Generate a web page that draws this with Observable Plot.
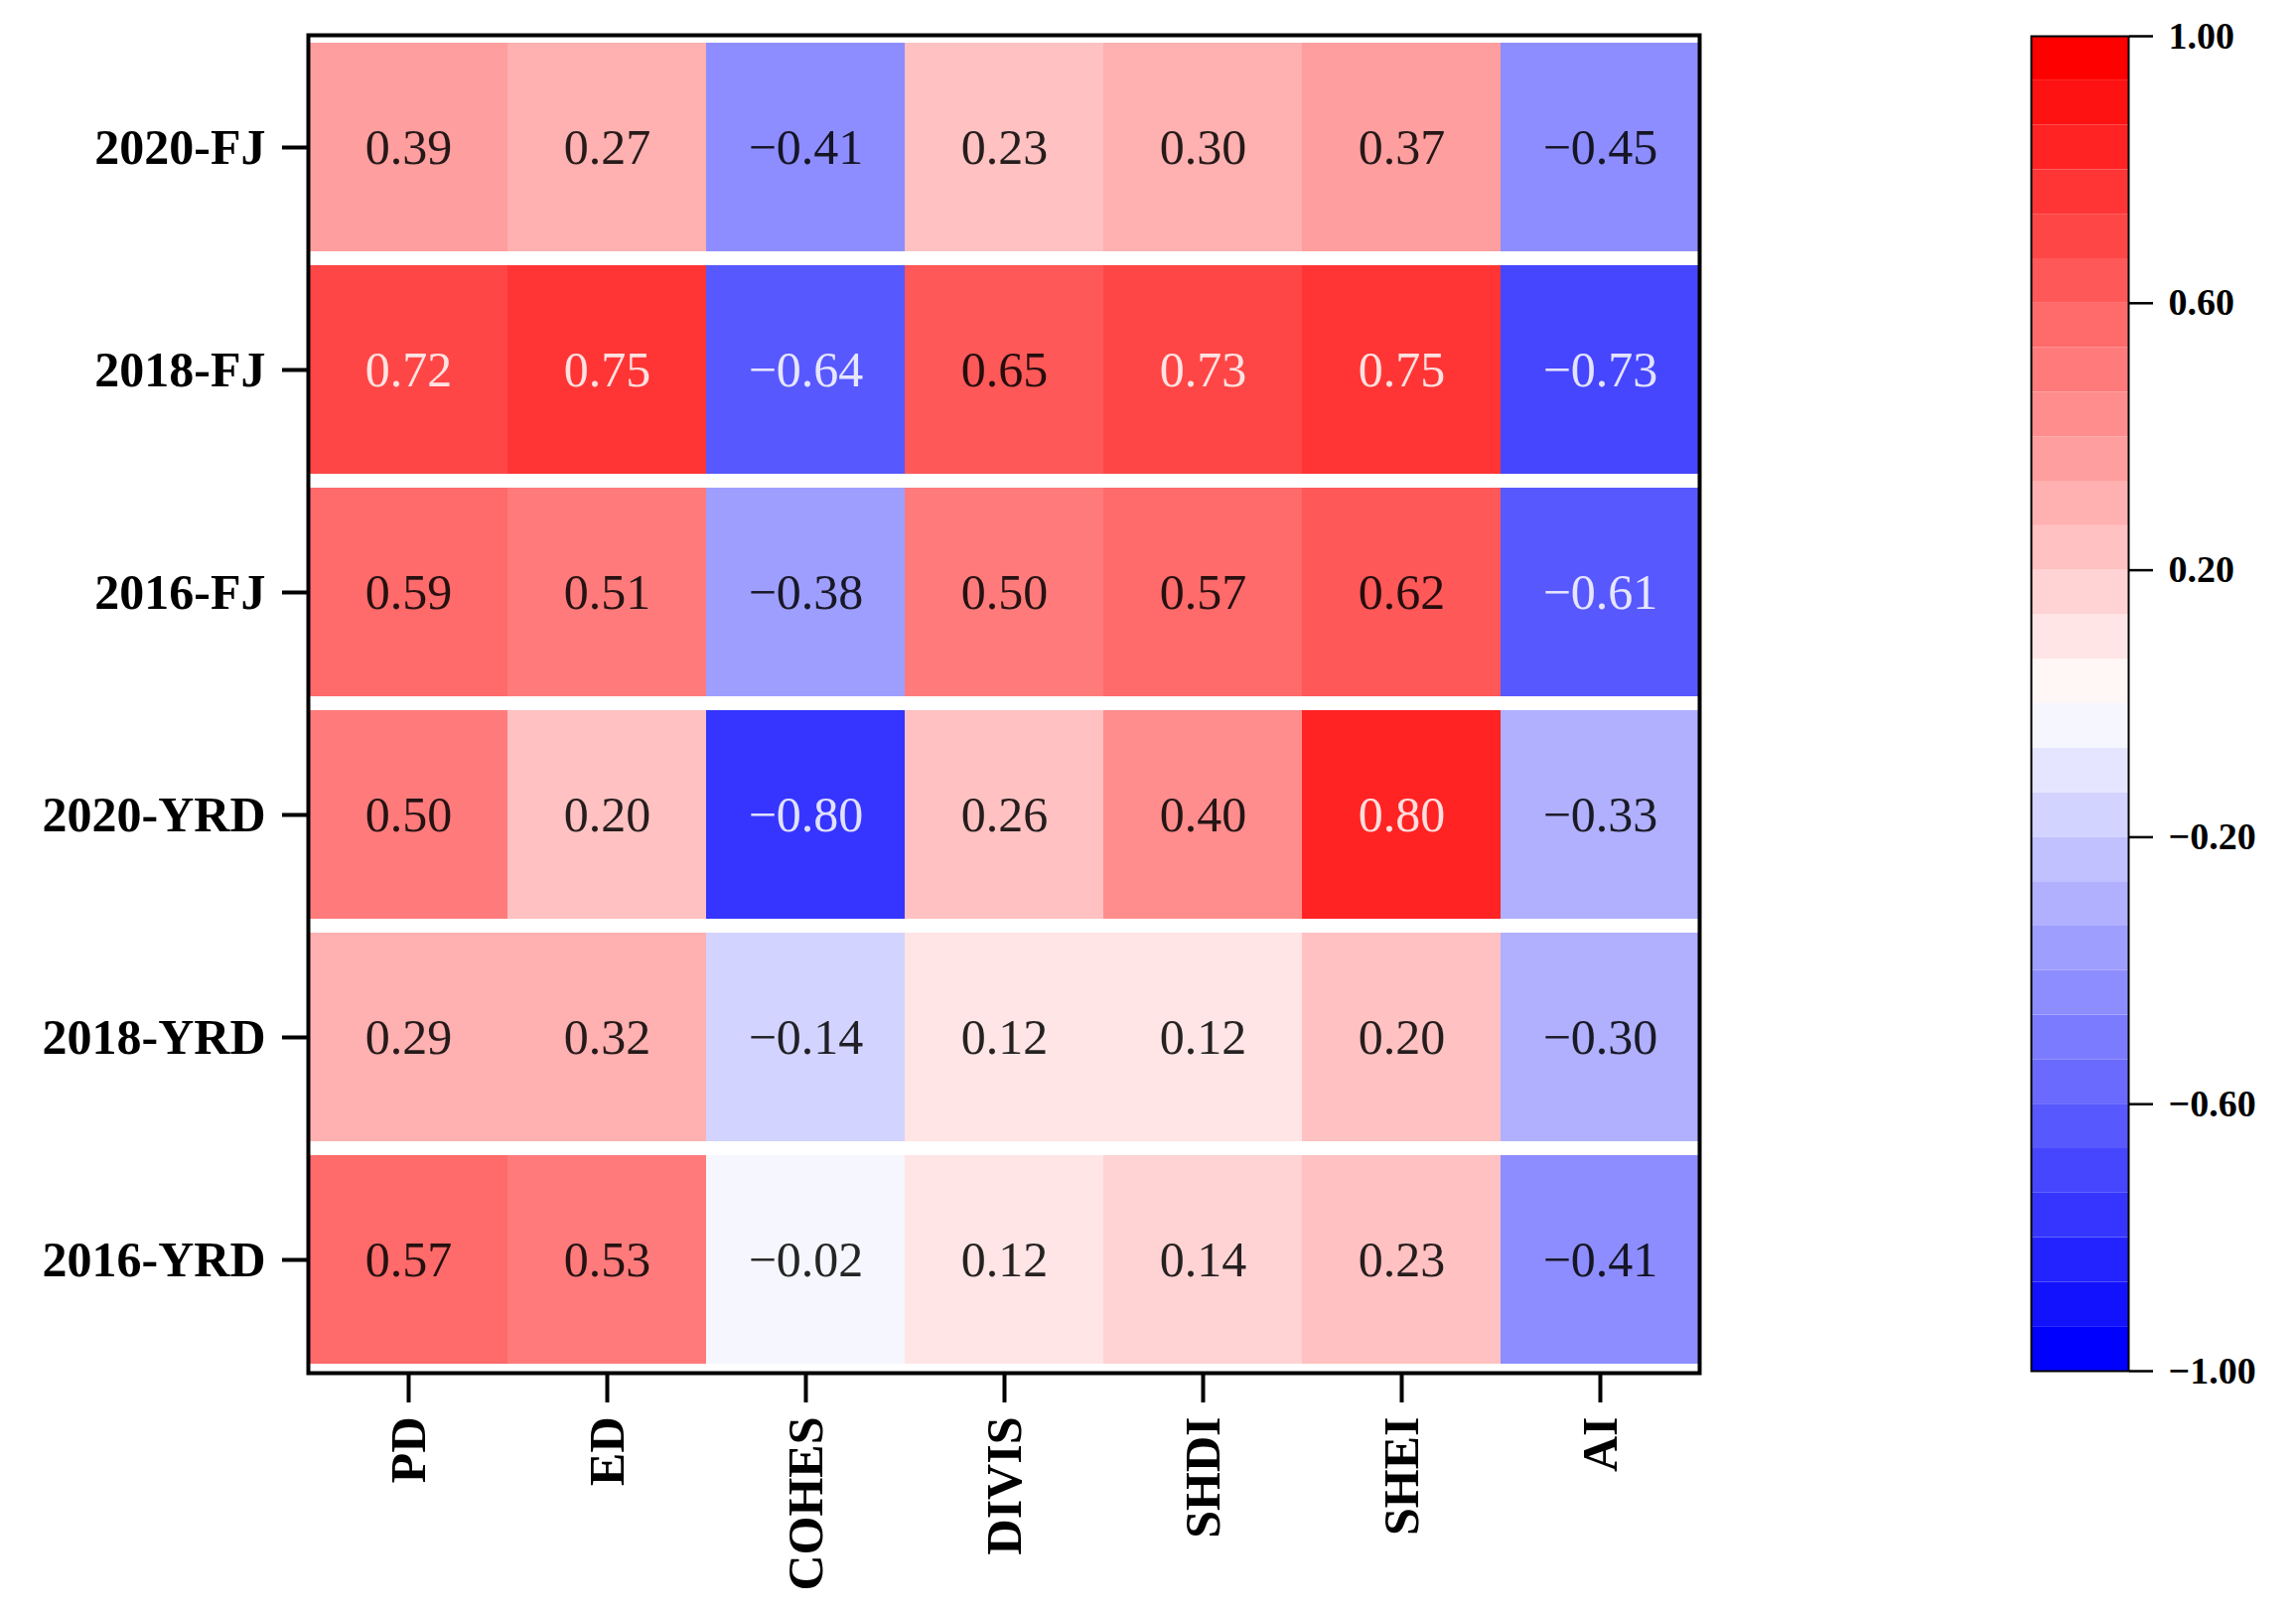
<!DOCTYPE html>
<html><head><meta charset="utf-8">
<script src="https://cdn.jsdelivr.net/npm/d3@7"></script>
<script src="https://cdn.jsdelivr.net/npm/@observablehq/plot@0.6"></script>
<style>
html,body{margin:0;padding:0;background:#fff;}
#wrap{position:relative;width:2312px;height:1625px;background:#fff;}
#main{position:absolute;left:0;top:0;}
#bar{position:absolute;left:1995px;top:0;}
</style></head><body><div id="wrap"><div id="main"></div><div id="bar"></div></div>
<script>
// ---- data ----
const regions = ["2020-FJ", "2018-FJ", "2016-FJ", "2020-YRD", "2018-YRD", "2016-YRD"];
const metrics = ["PD", "ED", "COHES", "DIVIS", "SHDI", "SHEI", "AI"];
const r2020FJ  = [0.39, 0.27, -0.41, 0.23, 0.30, 0.37, -0.45];
const r2018FJ  = [0.72, 0.75, -0.64, 0.65, 0.73, 0.75, -0.73];
const r2016FJ  = [0.59, 0.51, -0.38, 0.50, 0.57, 0.62, -0.61];
const r2020YRD = [0.50, 0.20, -0.80, 0.26, 0.40, 0.80, -0.33];
const r2018YRD = [0.29, 0.32, -0.14, 0.12, 0.12, 0.20, -0.30];
const r2016YRD = [0.57, 0.53, -0.02, 0.12, 0.14, 0.23, -0.41];
const colorbarTicks = [-1.0, -0.6, -0.2, 0.2, 0.6, 1.0];
const colorDomain = [-1, 1];
const nLevels = 30;

const rowValues = [r2020FJ, r2018FJ, r2016FJ, r2020YRD, r2018YRD, r2016YRD];
const table = regions.flatMap((r, i) => metrics.map((m, j) => ({region: r, metric: m, value: rowValues[i][j]})));

// discrete bwr colormap (30 levels, linear blue-white-red)
const bwr = d3.piecewise(d3.interpolateRgb, ["#0000ff", "#ffffff", "#ff0000"]);
const levelColors = d3.range(nLevels).map(i => bwr(i / (nLevels - 1)));
const step = (colorDomain[1] - colorDomain[0]) / nLevels;
const thresholds = d3.range(1, nLevels).map(k => +(colorDomain[0] + k * step).toFixed(6));
const colorOpts = {type: "threshold", domain: thresholds, range: levelColors};

function levelOf(v) { return Math.max(0, Math.min(nLevels - 1, d3.bisectRight(thresholds, v))); }
function lum(c) {
  const rgb = d3.rgb(c);
  const f = x => { x /= 255; return x <= 0.03928 ? x / 12.92 : Math.pow((x + 0.055) / 1.055, 2.4); };
  return 0.2126 * f(rgb.r) + 0.7152 * f(rgb.g) + 0.0722 * f(rgb.b);
}
const textColor = d => lum(levelColors[levelOf(d.value)]) < 0.275 ? "white" : "black";
const fmt = d3.format(".2f");
const FONT = "'Liberation Serif', 'Times New Roman', serif";

const main = Plot.plot({
  width: 1731,
  height: 1625,
  marginLeft: 310,
  marginRight: 20,
  marginTop: 35,
  marginBottom: 243,
  style: {fontFamily: FONT, background: "white", color: "black"},
  x: {domain: metrics, padding: 0, axis: null},
  y: {domain: regions, paddingInner: 0.0624, paddingOuter: 0.0312, axis: null},
  color: colorOpts,
  marks: [
    Plot.cell(table, {x: "metric", y: "region", fill: "value", inset: 0}),
    Plot.text(table, {x: "metric", y: "region", text: d => fmt(d.value), fill: textColor, fillOpacity: 0.85,
      fontSize: 50, fontFamily: FONT}),
    Plot.frame({stroke: "black", strokeWidth: 4}),
    Plot.axisY({tickSize: 26, tickPadding: 17, strokeWidth: 4, fontSize: 50, fontWeight: "bold", fontFamily: FONT, label: null}),
    Plot.axisX({anchor: "bottom", tickSize: 30, tickPadding: 14, strokeWidth: 4, tickRotate: -90,
      fontSize: 50, fontWeight: "bold", fontFamily: FONT, label: null})
  ]
});
document.getElementById("main").appendChild(main);

const bins = d3.range(nLevels).map(i => ({lo: colorDomain[0] + i * step, hi: colorDomain[0] + (i + 1) * step, mid: colorDomain[0] + (i + 0.5) * step}));
const bar = Plot.plot({
  width: 317,
  height: 1625,
  marginLeft: 50,
  marginRight: 169,
  marginTop: 36,
  marginBottom: 245,
  style: {fontFamily: FONT, background: "transparent", color: "black"},
  y: {domain: colorDomain, axis: null},
  color: colorOpts,
  marks: [
    Plot.rect(bins, {y1: "lo", y2: "hi", fill: "mid"}),
    Plot.frame({stroke: "black", strokeWidth: 2}),
    Plot.axisY({anchor: "right", ticks: colorbarTicks, tickFormat: d => fmt(d), tickSize: 24, tickPadding: 16,
      strokeWidth: 2.5, fontSize: 38, fontWeight: "bold", fontFamily: FONT, label: null})
  ]
});
document.getElementById("bar").appendChild(bar);
</script>
</body></html>
